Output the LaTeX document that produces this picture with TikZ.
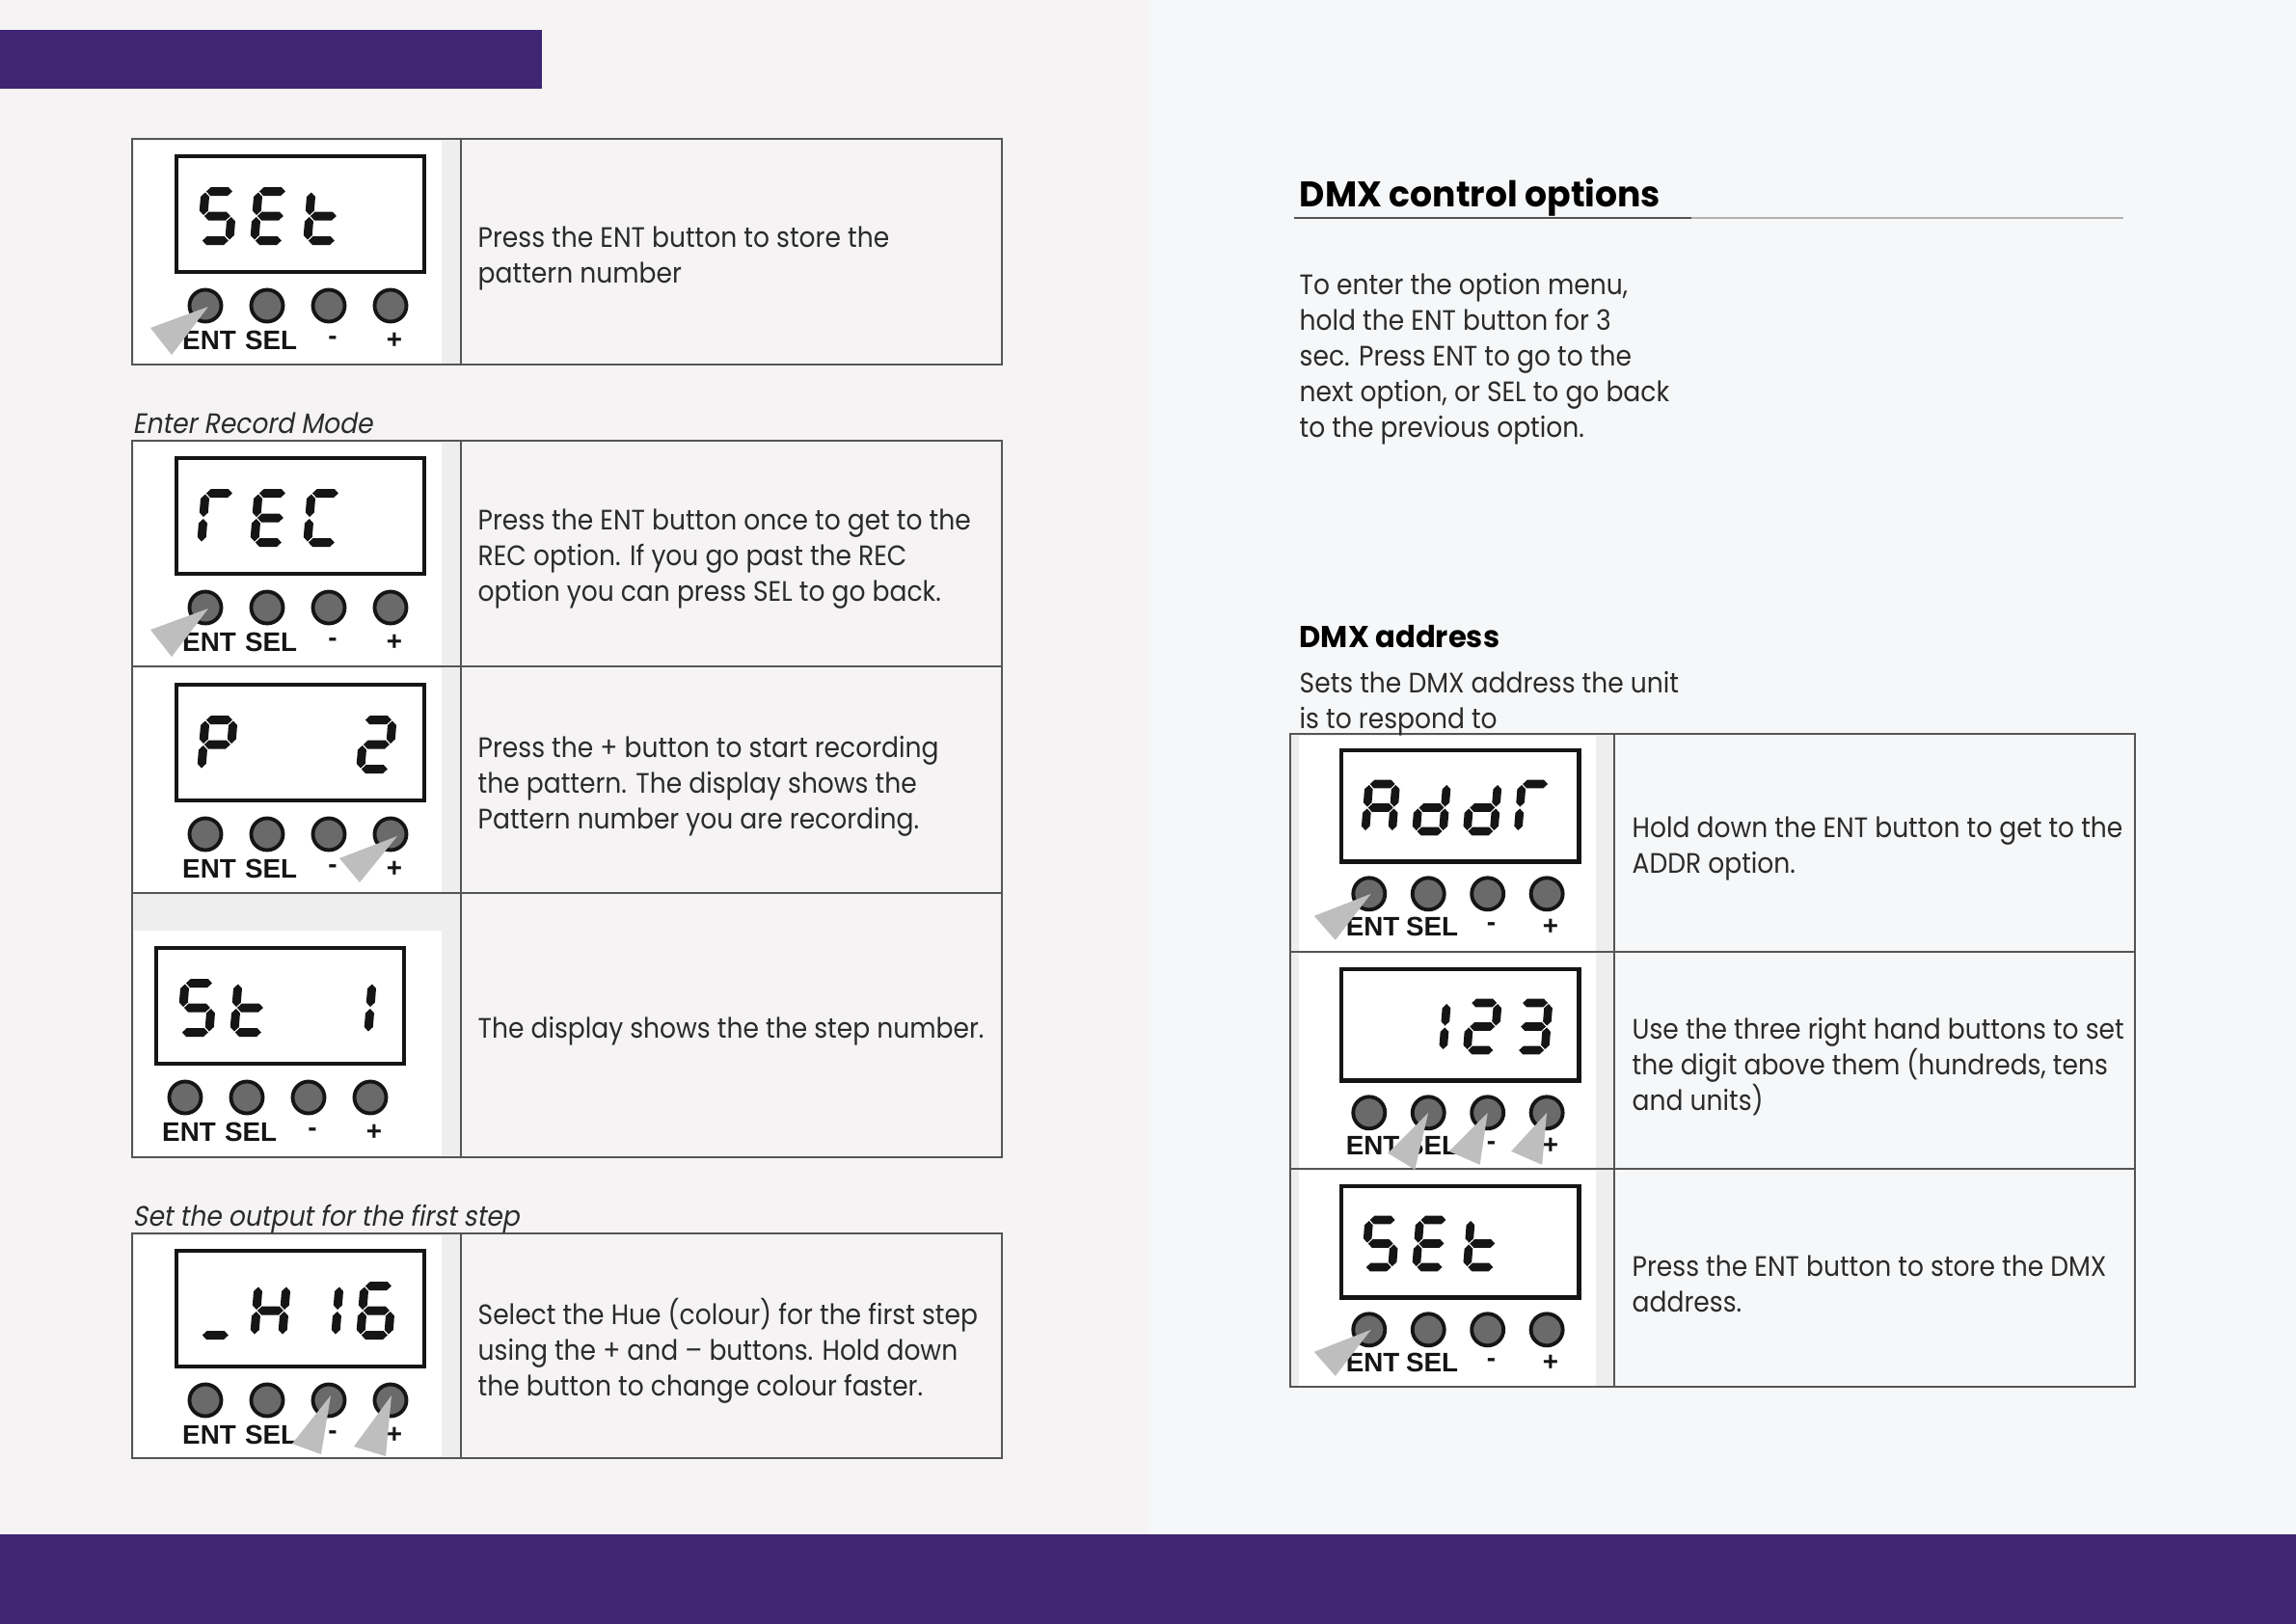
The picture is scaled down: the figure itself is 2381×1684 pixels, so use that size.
\documentclass[tikz,border=0pt]{standalone}
\usepackage{fontspec}
\setmainfont{Poppins}[FakeStretch=0.91]
\newfontfamily\slantfont{Poppins}[FakeStretch=0.91,FakeSlant=0.18]
\newfontfamily\headfont{Poppins}[FakeStretch=0.98]
\newfontfamily\keyfont{Liberation Sans}
\usetikzlibrary{positioning}

\definecolor{pagel}{HTML}{F5F3F4}
\definecolor{pager}{HTML}{F6F7F8}
\definecolor{brand}{HTML}{3E2673}
\definecolor{gridgray}{HTML}{555555}
\definecolor{txtgray}{HTML}{2B2B2B}
\definecolor{stripgray}{HTML}{EEEEEE}
\definecolor{btngray}{HTML}{6A6A6A}
\definecolor{lcdblack}{HTML}{151515}
\definecolor{ptrgray}{HTML}{BEBEBE}

% seven segment pieces, origin at the lower left of a digit
\newcommand{\lcdsega}{\fill (5.5,-55.5) -- ++(4.5,-4.5) -- ++(18,0) -- ++(4.5,4.5) -- ++(-4.5,4.5) -- ++(-18,0) -- cycle;}
\newcommand{\lcdsegg}{\fill (5.5,-30) -- ++(4.5,-4.5) -- ++(18,0) -- ++(4.5,4.5) -- ++(-4.5,4.5) -- ++(-18,0) -- cycle;}
\newcommand{\lcdsegd}{\fill (5.5,-4.5) -- ++(4.5,-4.5) -- ++(18,0) -- ++(4.5,4.5) -- ++(-4.5,4.5) -- ++(-18,0) -- cycle;}
\newcommand{\lcdsegf}{\fill (4.5,-54.5) -- ++(4.5,4.5) -- ++(0,14.5) -- ++(-4.5,4.5) -- ++(-4.5,-4.5) -- ++(0,-14.5) -- cycle;}
\newcommand{\lcdsegb}{\fill (33.5,-54.5) -- ++(4.5,4.5) -- ++(0,14.5) -- ++(-4.5,4.5) -- ++(-4.5,-4.5) -- ++(0,-14.5) -- cycle;}
\newcommand{\lcdsege}{\fill (4.5,-29) -- ++(4.5,4.5) -- ++(0,14.5) -- ++(-4.5,4.5) -- ++(-4.5,-4.5) -- ++(0,-14.5) -- cycle;}
\newcommand{\lcdsegc}{\fill (33.5,-29) -- ++(4.5,4.5) -- ++(0,14.5) -- ++(-4.5,4.5) -- ++(-4.5,-4.5) -- ++(0,-14.5) -- cycle;}

% #1 name, #2 display corner, #3 scale, #4 digits as position/{segments}
\newcommand{\lcdpanel}[4]{%
  \begin{scope}[shift={#2}, scale=#3]
    \draw[display] (0,0) rectangle (257,120);
    \foreach \k/\segs in {#4} {
      \begin{scope}[shift={({21+55*(\k-1)},92)}, xslant=0.08, fill=lcdblack]
        \foreach \s in \segs {\csname lcdseg\s\endcsname}
      \end{scope}
    }
    \foreach \k/\x/\lab in {1/30/ENT, 2/94/SEL, 3/158/-, 4/222/+} {
      \node[btn] (#1-\k) at (\x,155) {};
      \node[keylabel] (#1-l\k) at (\x+4,191) {\lab};
    }
  \end{scope}}

\begin{document}
\begin{tikzpicture}[x=0.1mm, y=-0.1mm,
    grid/.style={draw=gridgray, line width=0.6pt},
    display/.style={draw=lcdblack, line width=1.4pt, fill=white},
    btn/.style={circle, draw=lcdblack, fill=btngray, line width=1.1pt, minimum size=3.3mm, inner sep=0pt},
    keylabel/.style={font=\keyfont\bfseries\fontsize{7.9}{8}\selectfont, text=lcdblack, inner sep=0pt},
    pointer/.style={fill=ptrgray},
    txt/.style={anchor=west, align=left, inner sep=0pt, text=txtgray, font=\fontsize{8.3}{10.5}\selectfont},
    caption/.style={anchor=base west, inner sep=0pt, text=txtgray, font=\slantfont\fontsize{8.3}{10.5}\selectfont},
    heading/.style={anchor=base west, inner sep=0pt, text=black, font=\headfont\bfseries\fontsize{10.5}{12}\selectfont}]

  \useasboundingbox (0,0) rectangle (2381,1684);
  \fill[pagel] (0,0) rectangle (1190,1684);
  \fill[pager] (1190,0) rectangle (2381,1684);
  \fill[brand] (0,31) rectangle (562,92);
  \fill[brand] (0,1591) rectangle (2381,1684);

  % picture cells
  \fill[stripgray] (137,144) rectangle (478,378);
  \fill[stripgray] (137,457) rectangle (478,1200);
  \fill[stripgray] (137,1279) rectangle (478,1512);
  \fill[white] (139,146) rectangle (458,378);
  \fill[white] (139,459) rectangle (458,691);
  \fill[white] (139,693) rectangle (458,926);
  \fill[white] (139,965) rectangle (458,1200);
  \fill[white] (139,1281) rectangle (458,1512);
  \fill[stripgray] (1338,761) rectangle (1674,1438);
  \fill[white] (1347,763) rectangle (1655,987);
  \fill[white] (1347,989) rectangle (1655,1212);
  \fill[white] (1347,1214) rectangle (1655,1438);

  % tables
  \draw[grid] (137,144) rectangle (1039,378) (478,144) -- (478,378);
  \draw[grid] (137,457) rectangle (1039,1200) (478,457) -- (478,1200)
    (137,691) -- (1039,691) (137,926) -- (1039,926);
  \draw[grid] (137,1279) rectangle (1039,1512) (478,1279) -- (478,1512);
  \draw[grid] (1338,761) rectangle (2214,1438) (1674,761) -- (1674,1438)
    (1338,987) -- (2214,987) (1338,1212) -- (2214,1212);

  % displays
  \lcdpanel{set}{(183,162)}{1}{1/{a,f,g,c,d}, 2/{a,d,e,f,g}, 3/{d,e,f,g}}
  \lcdpanel{rec}{(183,475)}{1}{1/{a,e,f}, 2/{a,d,e,f,g}, 3/{a,d,e,f}}
  \lcdpanel{pat}{(183,710)}{1}{1/{a,b,e,f,g}, 4/{a,b,g,e,d}}
  \lcdpanel{step}{(162,983)}{1}{1/{a,f,g,c,d}, 2/{d,e,f,g}, 4/{b,c}}
  \lcdpanel{hue}{(183,1297)}{1}{1/{d}, 2/{b,c,e,f,g}, 3/{b,c}, 4/{a,c,d,e,f,g}}
  \lcdpanel{addr}{(1391,778)}{0.96}{1/{a,b,c,e,f,g}, 2/{b,c,d,e,g}, 3/{b,c,d,e,g}, 4/{a,e,f}}
  \lcdpanel{num}{(1391,1005)}{0.96}{2/{b,c}, 3/{a,b,g,e,d}, 4/{a,b,c,d,g}}
  \lcdpanel{store}{(1391,1230)}{0.96}{1/{a,f,g,c,d}, 2/{a,d,e,f,g}, 3/{d,e,f,g}}

  % finger pointers
  \fill[pointer] ([shift={(3,1)}]set-1.center) -- ++(-60,22) -- ++(22,28) -- cycle;
  \fill[pointer] ([shift={(3,1)}]rec-1.center) -- ++(-60,22) -- ++(22,28) -- cycle;
  \fill[pointer] ([shift={(7,2)}]pat-4.center) -- ++(-60,23) -- ++(21,25) -- cycle;
  \fill[pointer] ([shift={(2,-5)}]hue-3.center) -- ++(-40,50) -- ++(30,11) -- cycle;
  \fill[pointer] ([shift={(1,-5)}]hue-4.center) -- ++(-39,53) -- ++(33,10) -- cycle;
  \fill[pointer] ([shift={(2,0)}]addr-1.center) -- ++(-59,23) -- ++(22,25) -- cycle;
  \fill[pointer] (num-2.center) -- ++(-42,42) -- ++(28,17) -- cycle;
  \fill[pointer] (num-3.center) -- ++(-40,40) -- ++(32,14) -- cycle;
  \fill[pointer] (num-4.center) -- ++(-37,40) -- ++(32,14) -- cycle;
  \fill[pointer] ([shift={(2,0)}]store-1.center) -- ++(-59,23) -- ++(22,25) -- cycle;

  % left page texts
  \node[txt] (t-set) at (495,268) {Press the ENT button to store the\\pattern number};
  \node[caption] (c-rec) at (137,449) {Enter Record Mode};
  \node[txt] (t-rec) at (495,580) {Press the ENT button once to get to the\\REC option. If you go past the REC\\option you can press SEL to go back.};
  \node[txt] (t-pat) at (495,815) {Press the + button to start recording\\the pattern. The display shows the\\Pattern number you are recording.};
  \node[txt] (t-step) at (495,1069) {The display shows the the step number.};
  \node[caption] (c-hue) at (137,1271) {Set the output for the first step};
  \node[txt] (t-hue) at (495,1401) {Select the Hue (colour) for the first step\\using the + and – buttons. Hold down\\the button to change colour faster.};

  % right page texts
  \node[heading] (h-dmx) at (1347,214) {DMX control options};
  \draw[line width=0.6pt, gridgray!45] (1342,226) -- (2202,226);
  \draw[line width=0.6pt, gridgray] (1342,226) -- (1754,226);
  \node[txt] (t-menu) at (1347,372) {To enter the option menu,\\hold the ENT button for 3\\sec. Press ENT to go to the\\next option, or SEL to go back\\to the previous option.};
  \node[heading, font=\headfont\bfseries\fontsize{8.9}{10}\selectfont] (h-addr) at (1347,671) {DMX address};
  \node[txt] (t-addr) at (1347,730) {Sets the DMX address the unit\\is to respond to};
  \node[txt] (t-addr1) at (1692,880) {Hold down the ENT button to get to the\\ADDR option.};
  \node[txt] (t-addr2) at (1692,1106) {Use the three right hand buttons to set\\the digit above them (hundreds, tens\\and units)};
  \node[txt] (t-addr3) at (1692,1331) {Press the ENT button to store the DMX\\address.};
\end{tikzpicture}
\end{document}
